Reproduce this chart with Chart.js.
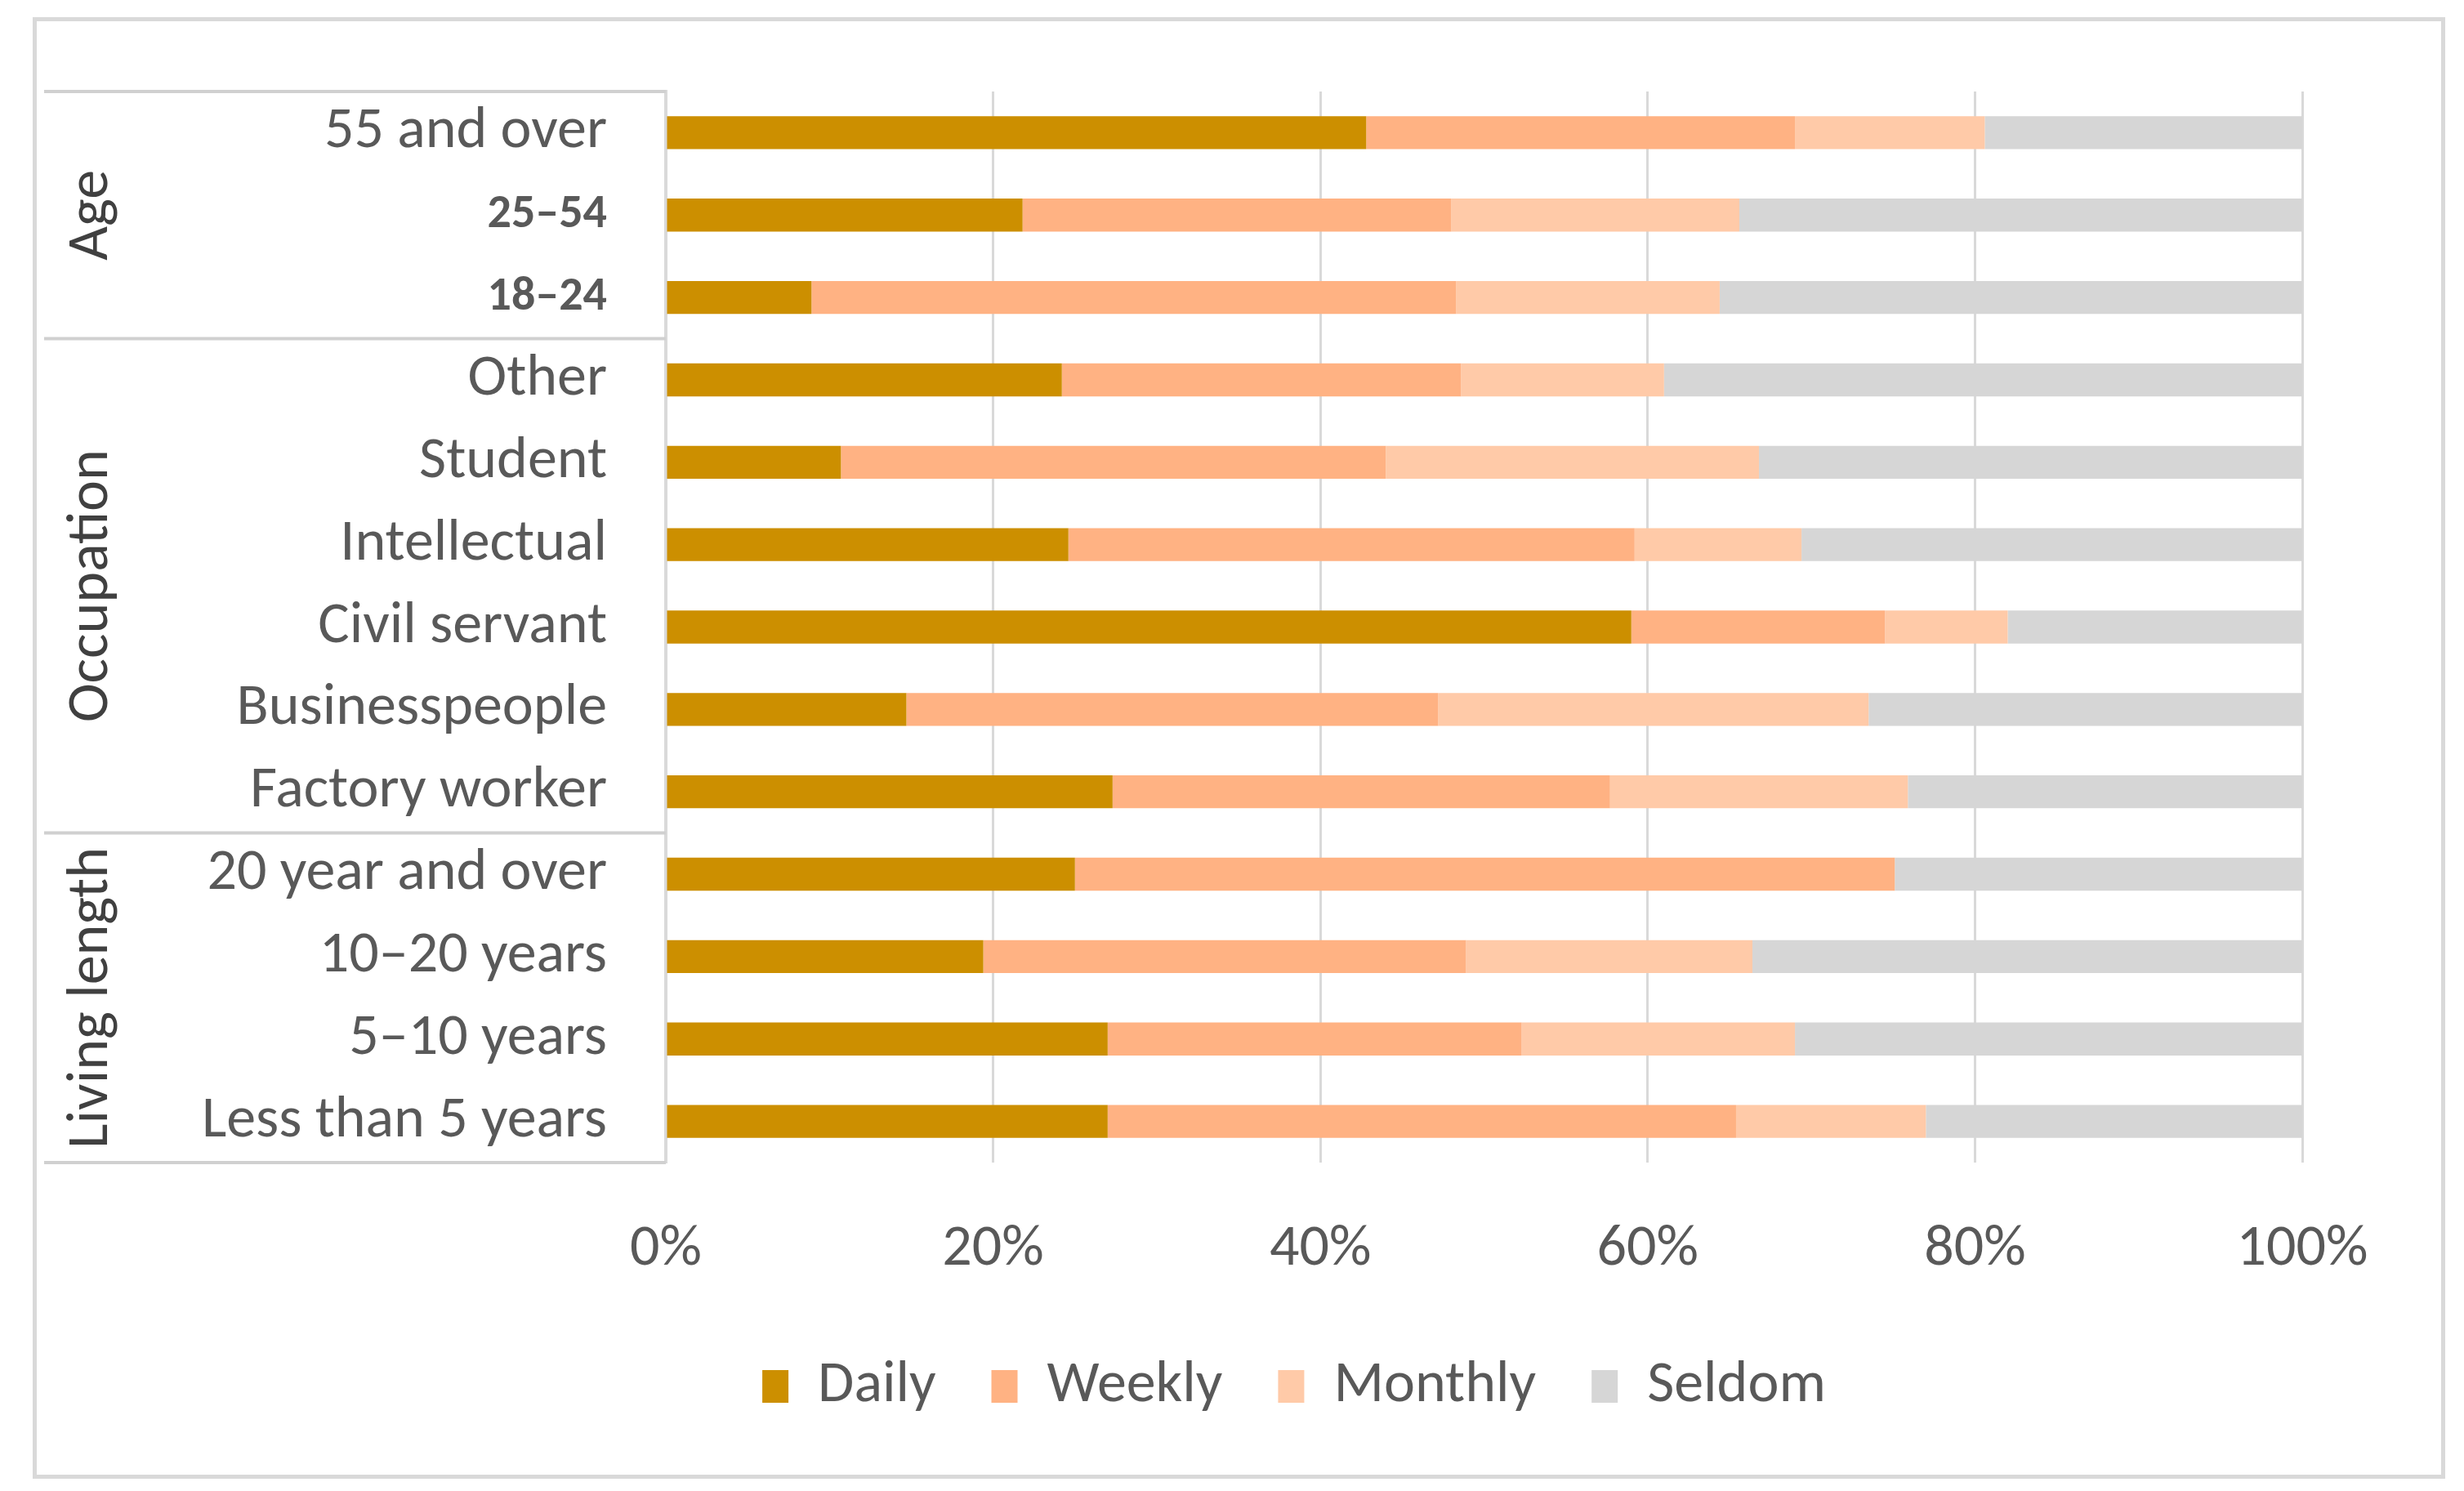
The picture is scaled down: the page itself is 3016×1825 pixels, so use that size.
<!DOCTYPE html>
<html>
<head>
<meta charset="utf-8">
<title>Frequency by group</title>
<script src="https://cdn.jsdelivr.net/npm/chart.js@4.4.1/dist/chart.umd.min.js"></script>
<style>
  html, body { margin: 0; padding: 0; background: #fff; }
  #frame {
    position: absolute; left: 40px; top: 21px;
    width: 2953px; height: 1789px;
    box-sizing: border-box; border: 5px solid #d9d9d9;
  }
  #wrap { position: absolute; left: 0; top: 0; width: 3016px; height: 1825px; }
</style>
</head>
<body>
<div id="frame"></div>
<div id="wrap"><canvas id="chart"></canvas></div>
<script>
// Data (top to bottom)
const categories = [
    '55 and over', '25–54', '18–24',
    'Other', 'Student', 'Intellectual', 'Civil servant', 'Businesspeople', 'Factory worker',
    '20 year and over', '10–20 years', '5–10 years', 'Less than 5 years'
];
const daily   = [42.8, 21.8,  8.9, 24.2, 10.7, 24.6, 59.0, 14.7, 27.3, 25.0, 19.4, 27.0, 27.0];
const weekly  = [26.2, 26.2, 39.4, 24.4, 33.3, 34.6, 15.5, 32.5, 30.4, 50.1, 29.5, 25.3, 38.4];
const monthly = [11.6, 17.6, 16.1, 12.4, 22.8, 10.2,  7.5, 26.3, 18.2,  0.0, 17.5, 16.7, 11.6];
const seldom  = [19.4, 34.4, 35.6, 39.0, 33.2, 30.6, 18.0, 26.5, 24.1, 24.9, 33.6, 31.0, 23.0];

const groupNames = ['Age', 'Occupation', 'Living length'];
const groupSizes = [3, 6, 4];
const smallLabels = ['25–54', '18–24'];

const xTicks = [0, 20, 40, 60, 80, 100];

// Styles
const FONT = "Carlito, 'Liberation Sans Narrow', 'Open Sans', sans-serif";
const TEXT_COLOR = '#595959';
const GRID_COLOR = '#d9d9d9';

// Group brackets and rotated group names on the left
const groupBoxes = {
    id: 'groupBoxes',
    afterDraw(chart) {
        const ctx = chart.ctx;
        const y = chart.scales.y;
        const step = y.getPixelForValue(1) - y.getPixelForValue(0);
        const left = 54;
        const right = chart.chartArea.left;

        ctx.save();
        ctx.strokeStyle = '#d0d0d0';
        ctx.lineWidth = 4;
        ctx.fillStyle = '#404040';
        ctx.font = '72px ' + FONT;
        ctx.textAlign = 'center';
        ctx.textBaseline = 'middle';

        let start = 0;
        groupSizes.forEach((n, g) => {
            const top = y.getPixelForValue(start) - step / 2;
            const bottom = y.getPixelForValue(start + n - 1) + step / 2;

            ctx.beginPath();
            ctx.moveTo(left, top);
            ctx.lineTo(right, top);
            if (g === groupSizes.length - 1) {
                ctx.moveTo(left, bottom);
                ctx.lineTo(right, bottom);
            }
            ctx.stroke();

            ctx.save();
            ctx.translate(113, (top + bottom) / 2);
            ctx.rotate(-Math.PI / 2);
            ctx.fillText(groupNames[g], 0, 0);
            ctx.restore();

            start += n;
        });
        ctx.restore();
    }
};

// The legend in the reference sits a bit right of the page centre
const legendShift = {
    id: 'legendShift',
    afterLayout(chart) {
        chart.legend.left += 350;
    }
};

const ctx = document.getElementById('chart').getContext('2d');
new Chart(ctx, {
    type: 'bar',
    data: {
        labels: categories,
        datasets: [
            { label: 'Daily',   data: daily,   backgroundColor: '#CC8F00' },
            { label: 'Weekly',  data: weekly,  backgroundColor: '#FFB283' },
            { label: 'Monthly', data: monthly, backgroundColor: '#FFCAA8' },
            { label: 'Seldom',  data: seldom,  backgroundColor: '#D6D6D6' }
        ]
    },
    options: {
        indexAxis: 'y',
        responsive: true,
        maintainAspectRatio: false,
        animation: false,
        categoryPercentage: 1,
        barPercentage: 0.4,
        layout: {
            padding: { left: 0, right: 198, top: 112, bottom: 82 }
        },
        scales: {
            x: {
                stacked: true,
                min: 0,
                max: 100,
                afterBuildTicks: scale => {
                    scale.ticks = xTicks.map(v => ({ value: v }));
                },
                afterFit: scale => { scale.height = 170; },
                grid: { color: GRID_COLOR, lineWidth: 3, drawTicks: false },
                border: { display: false },
                ticks: {
                    padding: 64,
                    color: TEXT_COLOR,
                    font: { family: FONT, size: 72 },
                    callback: v => v + '%'
                }
            },
            y: {
                stacked: true,
                afterFit: scale => { scale.width = 815; },
                grid: { display: false },
                border: { display: true, color: GRID_COLOR, width: 4 },
                ticks: {
                    padding: 64,
                    color: TEXT_COLOR,
                    font: c => smallLabels.includes(categories[c.index])
                        ? { family: FONT, size: 58, weight: 'bold' }
                        : { family: FONT, size: 72 }
                }
            }
        },
        plugins: {
            legend: {
                position: 'bottom',
                labels: {
                    boxWidth: 32,
                    boxHeight: 40,
                    padding: 68,
                    color: TEXT_COLOR,
                    font: { family: FONT, size: 72 }
                }
            },
            tooltip: { enabled: false }
        }
    },
    plugins: [groupBoxes, legendShift]
});
</script>
</body>
</html>
